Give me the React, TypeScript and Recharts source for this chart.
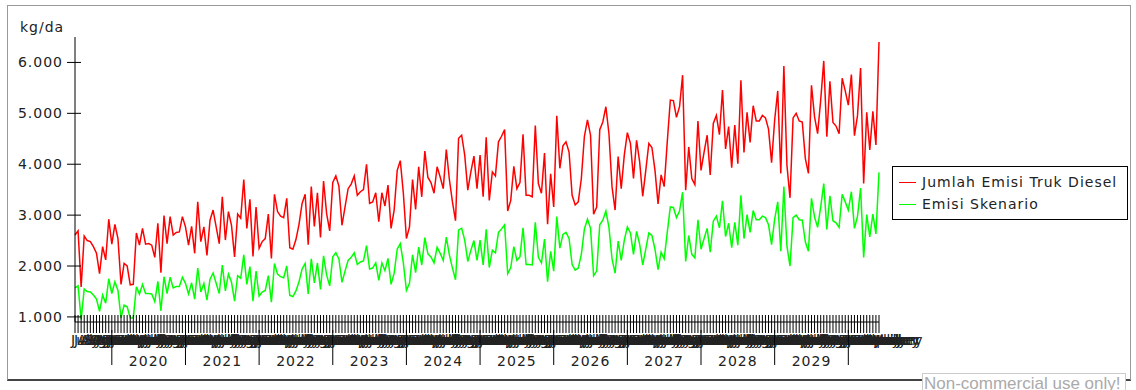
import { Line, LineChart, XAxis, YAxis } from "recharts";

// Semi-monthly periods starting July 2019
const bulan = [
  "January", "February", "March", "April", "May", "June",
  "July", "August", "September", "October", "November", "December",
];
const tahunAwal = 2019;
const bulanAwal = 6;
const tahunLabel = [2020, 2021, 2022, 2023, 2024, 2025, 2026, 2027, 2028, 2029];
const yTicks = [1000, 2000, 3000, 4000, 5000, 6000];

const emisiTruk = [
  2610, 2690, 1590, 2590, 2500, 2480, 2380, 2250, 1850, 2380, 2120, 2920, 2430, 2820, 2540, 1640,
  2050, 2000, 1630, 1640, 2650, 2410, 2740, 2430, 2440, 2410, 2170, 2840, 1870, 2990, 2440, 2970,
  2610, 2660, 2670, 2970, 2770, 2410, 2780, 2250, 3260, 2480, 2770, 2210, 2900, 3100, 2770, 2440,
  3360, 2510, 3070, 2800, 2180, 3020, 2940, 3700, 2740, 3310, 2190, 3160, 2350, 2480, 2540, 3020,
  2150, 3410, 3070,
  2980, 2950, 3330, 2360, 2330, 2520, 2820, 3230, 3410, 2420, 3560, 2780, 3440, 2560, 3670, 3030,
  2690, 3640, 3770, 3570, 2800, 3160, 3520, 3610, 3770, 3390, 3460, 3500, 4000, 3230, 3260, 3440,
  2870, 3440, 3180, 3590, 2740, 3100, 3880, 4070, 3430, 2540, 2770, 3700, 3110, 3950, 3360, 4260,
  3740, 3640, 3430, 3950, 3750, 3520, 4290, 3700, 3260, 2890, 4510, 4570, 4180, 3490, 3850, 4160,
  3520, 4180,
  3360, 4530, 3290, 3850, 3770, 4440, 4550, 4680, 3080, 3290, 3960, 3520, 3640, 4590, 3390, 3390,
  3360, 4760, 3620, 3430, 4220, 2820, 3810, 3160, 4950, 3920, 4360, 4440, 4240, 3390, 3200, 3260,
  3720, 4550, 4870, 4570, 3020, 3160, 4680, 4830, 5130, 4600, 3560, 3100, 4150, 3520, 4180, 4620,
  4410, 3720, 4470, 4050, 3370, 3880, 4410, 4330, 3880, 3220, 3790, 3560, 4440, 5260, 5250, 4920,
  5130, 5750, 3490, 4340,
  3720, 3600, 4850, 3880, 4240, 4570, 3790, 4800, 4960, 4580, 5460, 4300, 4740, 3930, 4770, 4010,
  5650, 4230, 5020, 4430, 5150, 4850, 4850, 4960, 4910, 4690, 4030, 4870, 5440, 3820, 5930, 3980,
  3340, 4910, 5000, 4850, 4830, 4110, 3820, 5550, 4930, 4600, 5260, 6030, 4540, 5630, 4820, 4750,
  4600, 5690, 5440, 5160, 5760, 4560, 4960, 5890, 3620, 5020, 4280, 5040, 4380, 6400,
];

const emisiSkenario = [
  1570, 1610, 950, 1550, 1500, 1490, 1430, 1350, 1110, 1430, 1270, 1750, 1460, 1690, 1520, 980,
  1230, 1200, 980, 980, 1590, 1450, 1640, 1460, 1460, 1450, 1300, 1700, 1120, 1790, 1460, 1780,
  1570, 1600, 1600, 1780, 1660, 1450, 1670, 1350, 1960, 1490, 1660, 1330, 1740, 1860, 1660, 1460,
  2020, 1510, 1840, 1680, 1310, 1810, 1760, 2220, 1640, 1990, 1310, 1900, 1410, 1490, 1520, 1810,
  1290, 2050, 1840,
  1790, 1770, 2000, 1420, 1400, 1510, 1690, 1940, 2050, 1450, 2140, 1670, 2060, 1540, 2200, 1820,
  1610, 2180, 2260, 2140, 1680, 1900, 2110, 2170, 2260, 2030, 2080, 2100, 2400, 1940, 1960, 2060,
  1720, 2060, 1910, 2150, 1640, 1860, 2330, 2440, 2060, 1520, 1660, 2220, 1870, 2370, 2020, 2560,
  2240, 2180, 2060, 2370, 2250, 2110, 2570, 2220, 1960, 1730, 2710, 2740, 2510, 2090, 2310, 2500,
  2110, 2510,
  2020, 2720, 1970, 2310, 2260, 2660, 2730, 2810, 1850, 1970, 2380, 2110, 2180, 2750, 2030, 2030,
  2020, 2860, 2170, 2060, 2530, 1690, 2290, 1900, 2970, 2350, 2620, 2660, 2540, 2030, 1920, 1960,
  2230, 2730, 2920, 2740, 1810, 1900, 2810, 2900, 3080, 2760, 2140, 1860, 2490, 2110, 2510, 2770,
  2650, 2230, 2680, 2430, 2020, 2330, 2650, 2600, 2330, 1930, 2270, 2140, 2660, 3160, 3150, 2950,
  3080, 3450, 2090, 2600,
  2230, 2160, 2910, 2330, 2540, 2740, 2270, 2880, 2980, 2750, 3280, 2580, 2840, 2360, 2860, 2410,
  3390, 2540, 3010, 2660, 3090, 2910, 2910, 2980, 2950, 2810, 2420, 2920, 3260, 2290, 3560, 2390,
  2000, 2950, 3000, 2910, 2900, 2470, 2290, 3330, 2960, 2760, 3160, 3620, 2720, 3380, 2890, 2850,
  2760, 3410, 3260, 3100, 3460, 2740, 2980, 3530, 2170, 3010, 2570, 3020, 2630, 3840,
];

const data = emisiTruk.map((truk, i) => {
  const m = bulanAwal + Math.floor(i / 2);
  return {
    id: i,
    bulan: bulan[m % 12],
    tahun: tahunAwal + Math.floor(m / 12),
    awalTahun: m % 12 === 0 && i % 2 === 0,
    tengahTahun: m % 12 === 6 && i % 2 === 0,
    truk,
    skenario: emisiSkenario[i],
  };
});

const FONT = "'DejaVu Sans', Verdana, sans-serif";
const TEXT = { fontFamily: FONT, fontSize: 14, letterSpacing: 1, fill: "#222" };

const titik = (v: number) => String(v).replace(/\B(?=(\d{3})+(?!\d))/g, ".");

function YTick({ x, y, payload }: any) {
  return (
    <g>
      <line x1={x + 4} x2={x + 18} y1={y} y2={y} stroke="#000" />
      <text x={x} y={y} dy={5} textAnchor="end" {...TEXT}>
        {titik(payload.value)}
      </text>
    </g>
  );
}

function XTick({ x, y, index }: any) {
  const d = data[index];
  if (!d) return null;
  return (
    <g>
      <line x1={x} x2={x} y1={y - 7} y2={y + 11} stroke="#000" />
      <text x={x - 4} y={y + 23} textAnchor="start" {...TEXT}>
        {d.bulan}
      </text>
      {d.awalTahun && <line x1={x} x2={x} y1={y + 8} y2={y + 43} stroke="#000" />}
      {d.tengahTahun && tahunLabel.includes(d.tahun) && (
        <text x={x} y={y + 44} textAnchor="middle" {...TEXT}>
          {d.tahun}
        </text>
      )}
    </g>
  );
}

const unitLabel = (props: any) => {
  const vb = props.viewBox;
  return (
    <text x={vb.x + 20} y={vb.y - 5} {...TEXT}>
      kg/da
    </text>
  );
};

const legend = [
  { name: "Jumlah Emisi Truk Diesel", color: "#ff0000" },
  { name: "Emisi Skenario", color: "#00ff00" },
];

export default function App() {
  return (
    <div
      style={{
        position: "absolute",
        left: 0,
        top: 0,
        width: 1136,
        height: 390,
        overflow: "hidden",
        background: "#fff",
        fontFamily: FONT,
      }}
    >
      <div
        style={{
          position: "absolute",
          left: 7,
          top: 5,
          width: 1122,
          height: 373,
          borderTop: "1px solid #999",
          borderLeft: "1px solid #999",
          borderRight: "1px solid #999",
          borderBottom: "2px solid #444",
        }}
      />
      <div style={{ position: "absolute", left: 0, top: 0 }}>
        <LineChart
          width={1136}
          height={390}
          data={data}
          margin={{ top: 37, right: 257, bottom: 0, left: 0 }}
        >
          <XAxis
            dataKey="id"
            scale="point"
            padding={{ left: 0, right: 0 }}
            interval={0}
            height={68}
            tickSize={0}
            tickMargin={0}
            tickLine={false}
            axisLine={{ stroke: "#000" }}
            tick={<XTick />}
          />
          <YAxis
            domain={[900, 6500]}
            ticks={yTicks}
            width={75}
            tickSize={8}
            tickMargin={4}
            tickLine={false}
            axisLine={{ stroke: "#000" }}
            tick={<YTick />}
            label={unitLabel}
          />
          <Line
            dataKey="truk"
            name="Jumlah Emisi Truk Diesel"
            stroke="#ff0000"
            strokeWidth={1.5}
            dot={false}
            isAnimationActive={false}
          />
          <Line
            dataKey="skenario"
            name="Emisi Skenario"
            stroke="#00ff00"
            strokeWidth={1.5}
            dot={false}
            isAnimationActive={false}
          />
        </LineChart>
      </div>
      <div
        style={{
          position: "absolute",
          left: 892,
          top: 166,
          width: 234,
          height: 52,
          border: "1px solid #000",
          background: "#fff",
          boxSizing: "content-box",
        }}
      >
        {legend.map((item, i) => (
          <div
            key={item.name}
            style={{
              position: "absolute",
              left: 6,
              top: 6 + i * 22,
              display: "flex",
              alignItems: "center",
              fontSize: 14,
              letterSpacing: 1,
              color: "#222",
              whiteSpace: "nowrap",
              lineHeight: "18px",
            }}
          >
            <span
              style={{
                display: "inline-block",
                width: 17,
                height: 0,
                borderTop: `1.5px solid ${item.color}`,
                marginRight: 6,
              }}
            />
            {item.name}
          </div>
        ))}
      </div>
      <div
        style={{
          position: "absolute",
          left: 922,
          top: 373,
          width: 201,
          height: 20,
          border: "1px solid #ccc",
          background: "#fff",
          color: "#aaa",
          fontFamily: "'Liberation Sans', Arial, sans-serif",
          fontSize: 17,
          lineHeight: "20px",
          paddingLeft: 1,
          whiteSpace: "nowrap",
        }}
      >
        Non-commercial use only!
      </div>
    </div>
  );
}
